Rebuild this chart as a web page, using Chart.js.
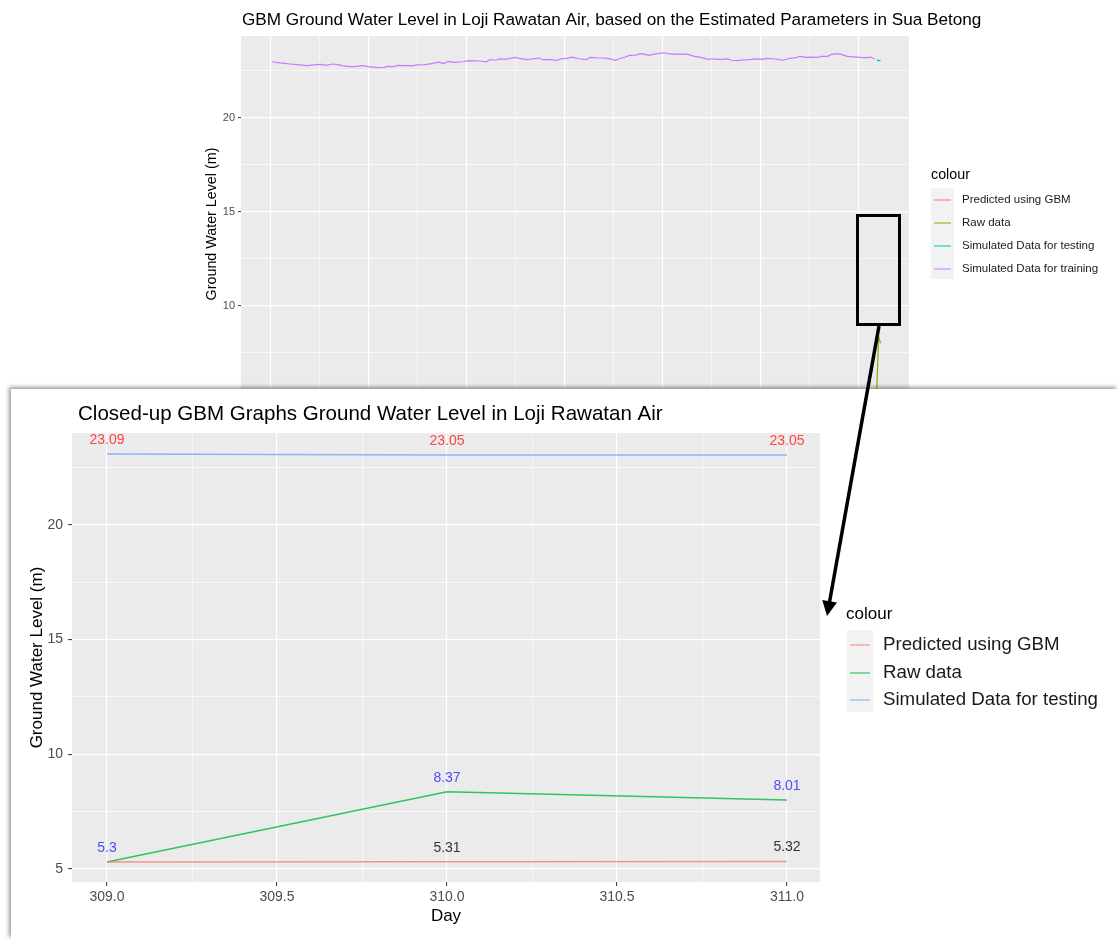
<!DOCTYPE html>
<html><head><meta charset="utf-8">
<script src="https://cdn.jsdelivr.net/npm/chart.js@4.4.1/dist/chart.umd.min.js"></script>
<style>
html,body{margin:0;padding:0;background:#fff;width:1118px;height:939px;overflow:hidden;position:relative;font-family:"Liberation Sans",Arial,sans-serif}
#c1{position:absolute;left:0;top:0}
#inset{position:absolute;left:11px;top:389px;width:1107px;height:550px;background:#fff;box-shadow:-2px -2px 4px rgba(0,0,0,0.4)}
#c2{position:absolute;left:0;top:0}
#ov{position:absolute;left:0;top:0;pointer-events:none}
</style></head><body>
<canvas id="c1" width="1118" height="440"></canvas>
<div id="inset"><canvas id="c2" width="1107" height="550"></canvas></div>
<svg id="ov" width="1118" height="939"></svg>
<script>
// ---------------- DATA ----------------
const trainDays = [1,5,10,15,19,23,26,28,32,35,
 37,41,44,47,50,55,58,60,63,65,
 70,72,75,79,83,86,88,91,94,98,
 101,104,107,110,112,115,117,120,122,125,
 127,131,134,137,139,143,146,148,151,154,
 157,161,163,167,170,172,176,178,181,183,
 186,189,191,193,195,198,201,204,209,213,
 216,219,223,225,228,230,233,235,238,240,
 244,247,251,253,256,259,261,265,268,270,
 273,275,279,281,284,286,289,291,294,299,
 302,304,306,308];
const trainValues = [22.99,22.93,22.87,22.82,22.78,22.84,22.85,22.80,22.87,22.82,
 22.77,22.73,22.74,22.78,22.73,22.68,22.69,22.74,22.73,22.80,
 22.78,22.77,22.82,22.84,22.90,22.98,22.89,23.01,22.96,22.99,
 23.05,23.04,23.03,22.99,23.10,23.07,23.14,23.12,23.17,23.22,
 23.17,23.10,23.14,23.19,23.10,23.10,23.06,23.14,23.17,23.24,
 23.15,23.10,23.22,23.19,23.19,23.17,23.07,23.15,23.24,23.33,
 23.34,23.42,23.38,23.33,23.38,23.44,23.47,23.40,23.40,23.38,
 23.28,23.24,23.12,23.15,23.12,23.12,23.14,23.07,23.05,23.08,
 23.10,23.14,23.12,23.17,23.15,23.12,23.07,23.17,23.21,23.28,
 23.22,23.24,23.22,23.28,23.28,23.38,23.42,23.38,23.28,23.24,
 23.21,23.21,23.24,23.12];
const testDays = [309, 310, 311];
const testValues = [23.09, 23.05, 23.05];
const rawValues = [5.3, 8.37, 8.01];
const predValues = [5.3, 5.31, 5.32];

const seriesNames = ['Predicted using GBM','Raw data','Simulated Data for testing','Simulated Data for training'];

const topYTicks = [5, 7.5, 10, 12.5, 15, 17.5, 20, 22.5];
const topXTicks = [0, 50, 100, 150, 200, 250, 300];
const insetYTicks = [5, 7.5, 10, 12.5, 15, 17.5, 20, 22.5];
const insetXTicks = [309, 309.25, 309.5, 309.75, 310, 310.25, 310.5, 310.75, 311];

const topTitle = 'GBM Ground Water Level in Loji Rawatan Air, based on the Estimated Parameters in Sua Betong';
const insetTitle = 'Closed-up GBM Graphs Ground Water Level in Loji Rawatan Air';
const yTitle = 'Ground Water Level (m)';
const xTitle = 'Day';
const legendTitle = 'colour';

// ---------------- HELPERS ----------------
const FAM = '"Liberation Sans", Arial, sans-serif';
const pts = (xs, ys) => xs.map((x, i) => ({x: x, y: ys[i]}));
function fitSize(ctx, text, width) {
  ctx.font = '100px ' + FAM;
  return 100 * width / ctx.measureText(text).width;
}
const isMajor5 = v => Math.abs(v / 5 - Math.round(v / 5)) < 1e-6;
const isMajorHalf = v => Math.abs(v * 2 - Math.round(v * 2)) < 1e-6;

function gridFor(majorFn, tickLen) {
  return {
    color: '#ffffff',
    lineWidth: c => (c.tick && majorFn(c.tick.value)) ? 1.2 : 0.6,
    drawTicks: true,
    tickLength: tickLen,
    tickWidth: 1,
    tickColor: c => (c.tick && majorFn(c.tick.value)) ? '#333333' : 'rgba(0,0,0,0)'
  };
}
const panelBg = {
  id: 'panelBg',
  beforeDraw(chart) {
    const a = chart.chartArea, ctx = chart.ctx;
    ctx.save(); ctx.fillStyle = '#ebebeb';
    ctx.fillRect(a.left, a.top, a.right - a.left, a.bottom - a.top);
    ctx.restore();
  }
};
function drawLegend(ctx, o) {
  ctx.save();
  ctx.fillStyle = '#000'; ctx.textBaseline = 'middle'; ctx.textAlign = 'left';
  ctx.font = o.titleSize + 'px ' + FAM;
  ctx.fillText(o.title, o.titleX, o.titleY);
  ctx.fillStyle = '#f2f2f2';
  ctx.fillRect(o.keyX, o.keyTop, o.keyW, o.keyBottom - o.keyTop);
  o.items.forEach((it, i) => {
    const y = o.rows[i];
    ctx.strokeStyle = it.color; ctx.lineWidth = o.lw;
    ctx.beginPath(); ctx.moveTo(o.keyX + 3, y); ctx.lineTo(o.keyX + o.keyW - 3, y); ctx.stroke();
    ctx.fillStyle = '#1a1a1a'; ctx.font = o.size + 'px ' + FAM;
    ctx.fillText(it.label, o.textX, y);
  });
  ctx.restore();
}

// ---------------- TOP CHART ----------------
const C_PRED = '#F8766D', C_RAW4 = '#7CAE00', C_TEST4 = '#00BFC4', C_TRAIN = '#C77CFF';
const topText = {
  id: 'topText',
  afterDraw(chart) {
    const ctx = chart.ctx, a = chart.chartArea;
    ctx.save();
    const ts = fitSize(ctx, topTitle, 740);
    ctx.font = ts + 'px ' + FAM; ctx.fillStyle = '#000'; ctx.textBaseline = 'middle'; ctx.textAlign = 'left';
    ctx.fillText(topTitle, 242, 20);
    ctx.translate(212, (a.top + a.bottom) / 2); ctx.rotate(-Math.PI / 2);
    ctx.textAlign = 'center'; ctx.font = '14.3px ' + FAM; ctx.fillStyle = '#000';
    ctx.fillText(yTitle, 0, 0);
    ctx.restore();
    drawLegend(ctx, {title: legendTitle, titleSize: 14.3, titleX: 931, titleY: 175,
      keyX: 931, keyW: 23, keyTop: 188, keyBottom: 279, rows: [200, 223, 246, 269],
      textX: 962, size: 11.5, lw: 1,
      items: [{label: seriesNames[0], color: C_PRED}, {label: seriesNames[1], color: C_RAW4},
              {label: seriesNames[2], color: C_TEST4}, {label: seriesNames[3], color: C_TRAIN}]});
  }
};
new Chart(document.getElementById('c1'), {
  type: 'line',
  data: {datasets: [
    {label: seriesNames[0], data: pts(testDays, predValues), borderColor: C_PRED, borderWidth: 1.2},
    {label: seriesNames[1], data: pts(testDays, rawValues), borderColor: C_RAW4, borderWidth: 1.2},
    {label: seriesNames[2], data: pts(testDays, testValues), borderColor: C_TEST4, borderWidth: 1.2},
    {label: seriesNames[3], data: pts(trainDays, trainValues), borderColor: C_TRAIN, borderWidth: 1.2}
  ]},
  options: {
    responsive: false, animation: false, events: [],
    elements: {point: {radius: 0}, line: {tension: 0}},
    layout: {padding: {left: 0, top: 36, right: 209, bottom: 28}},
    plugins: {legend: {display: false}, title: {display: false}, tooltip: {enabled: false}},
    scales: {
      x: {type: 'linear', min: -14.9, max: 325.5,
          afterBuildTicks: s => { s.ticks = topXTicks.concat(topXTicks.slice(0, -1).map(v => v + 25)).sort((a, b) => a - b).map(v => ({value: v})); },
          afterFit: s => { s.height = 0; },
          ticks: {display: false}, grid: Object.assign(gridFor(v => v % 50 === 0, 0), {drawTicks: false}), border: {display: false}},
      y: {type: 'linear', min: 4.36, max: 24.36,
          afterBuildTicks: s => { s.ticks = topYTicks.map(v => ({value: v})); },
          afterFit: s => { s.width = 241; },
          ticks: {autoSkip: false, padding: 3, color: '#4d4d4d', font: {family: FAM, size: 11},
                  callback: v => isMajor5(v) ? String(v) : ''},
          grid: gridFor(isMajor5, 3), border: {display: false}}
    }
  },
  plugins: [panelBg, topText]
});

// ---------------- INSET CHART ----------------
const C_RAW3 = 'rgba(0,186,56,0.8)', C_TEST3 = 'rgba(97,156,255,0.7)', C_PRED3 = 'rgba(248,118,109,0.75)';
const insetText = {
  id: 'insetText',
  afterDatasetsDraw(chart) {
    const ctx = chart.ctx, xs = chart.scales.x, ys = chart.scales.y;
    ctx.save();
    ctx.font = '14px ' + FAM; ctx.textAlign = 'center'; ctx.textBaseline = 'middle';
    const lab = (vals, color, skip) => {
      ctx.fillStyle = color;
      vals.forEach((v, i) => { if (skip && skip(i)) return;
        ctx.fillText(String(v), xs.getPixelForValue(testDays[i]), ys.getPixelForValue(v) - 14); });
    };
    lab(predValues, '#333333', i => predValues[i] === rawValues[i]);
    lab(testValues, '#ff4545');
    lab(rawValues, '#4d4dff');
    ctx.restore();
  },
  afterDraw(chart) {
    const ctx = chart.ctx, a = chart.chartArea;
    ctx.save();
    const ts = fitSize(ctx, insetTitle, 585);
    ctx.font = ts + 'px ' + FAM; ctx.fillStyle = '#000'; ctx.textBaseline = 'middle'; ctx.textAlign = 'left';
    ctx.fillText(insetTitle, 67, 25);
    ctx.textAlign = 'center'; ctx.font = '17px ' + FAM;
    ctx.fillText(xTitle, (a.left + a.right) / 2, 527);
    ctx.translate(26, (a.top + a.bottom) / 2); ctx.rotate(-Math.PI / 2);
    ctx.font = '17px ' + FAM;
    ctx.fillText(yTitle, 0, 0);
    ctx.restore();
    drawLegend(ctx, {title: legendTitle, titleSize: 17, titleX: 835, titleY: 225,
      keyX: 836, keyW: 26, keyTop: 241, keyBottom: 323, rows: [256, 284, 311],
      textX: 872, size: 18.7, lw: 1.2,
      items: [{label: seriesNames[0], color: C_PRED3}, {label: seriesNames[1], color: C_RAW3},
              {label: seriesNames[2], color: C_TEST3}]});
  }
};
new Chart(document.getElementById('c2'), {
  type: 'line',
  data: {datasets: [
    {label: seriesNames[0], data: pts(testDays, predValues), borderColor: C_PRED3, borderWidth: 1.5},
    {label: seriesNames[1], data: pts(testDays, rawValues), borderColor: C_RAW3, borderWidth: 1.5},
    {label: seriesNames[2], data: pts(testDays, testValues), borderColor: C_TEST3, borderWidth: 1.5}
  ]},
  options: {
    responsive: false, animation: false, events: [],
    elements: {point: {radius: 0}, line: {tension: 0}},
    layout: {padding: {left: 0, top: 44, right: 298, bottom: 27}},
    plugins: {legend: {display: false}, title: {display: false}, tooltip: {enabled: false}},
    scales: {
      x: {type: 'linear', min: 308.897, max: 311.097,
          afterBuildTicks: s => { s.ticks = insetXTicks.map(v => ({value: v})); },
          afterFit: s => { s.height = 30; },
          ticks: {autoSkip: false, maxRotation: 0, padding: 3, color: '#4d4d4d', font: {family: FAM, size: 14},
                  callback: v => isMajorHalf(v) ? Number(v).toFixed(1) : ''},
          grid: gridFor(isMajorHalf, 4), border: {display: false}},
      y: {type: 'linear', min: 4.43, max: 24.01,
          afterBuildTicks: s => { s.ticks = insetYTicks.map(v => ({value: v})); },
          afterFit: s => { s.width = 61; },
          ticks: {autoSkip: false, padding: 5, color: '#4d4d4d', font: {family: FAM, size: 14},
                  callback: v => isMajor5(v) ? String(v) : ''},
          grid: gridFor(isMajor5, 4), border: {display: false}}
    }
  },
  plugins: [panelBg, insetText]
});

// ---------------- ANNOTATION (box + arrow) ----------------
(function () {
  const ns = 'http://www.w3.org/2000/svg', svg = document.getElementById('ov');
  const mk = (t, at) => { const e = document.createElementNS(ns, t); for (const k in at) e.setAttribute(k, at[k]); svg.appendChild(e); return e; };
  mk('rect', {x: 857.5, y: 215.5, width: 42, height: 109, fill: 'none', stroke: '#000', 'stroke-width': 3});
  const x0 = 879, y0 = 326, x1 = 827, y1 = 616;
  const L = Math.hypot(x1 - x0, y1 - y0), dx = (x1 - x0) / L, dy = (y1 - y0) / L;
  const hl = 15, hw = 7.5, bx = x1 - hl * dx, by = y1 - hl * dy;
  mk('line', {x1: x0, y1: y0, x2: bx + 2 * dx, y2: by + 2 * dy, stroke: '#000', 'stroke-width': 3.5});
  mk('polygon', {points: `${x1},${y1} ${bx - hw * dy},${by + hw * dx} ${bx + hw * dy},${by - hw * dx}`, fill: '#000'});
})();
</script>
</body></html>
